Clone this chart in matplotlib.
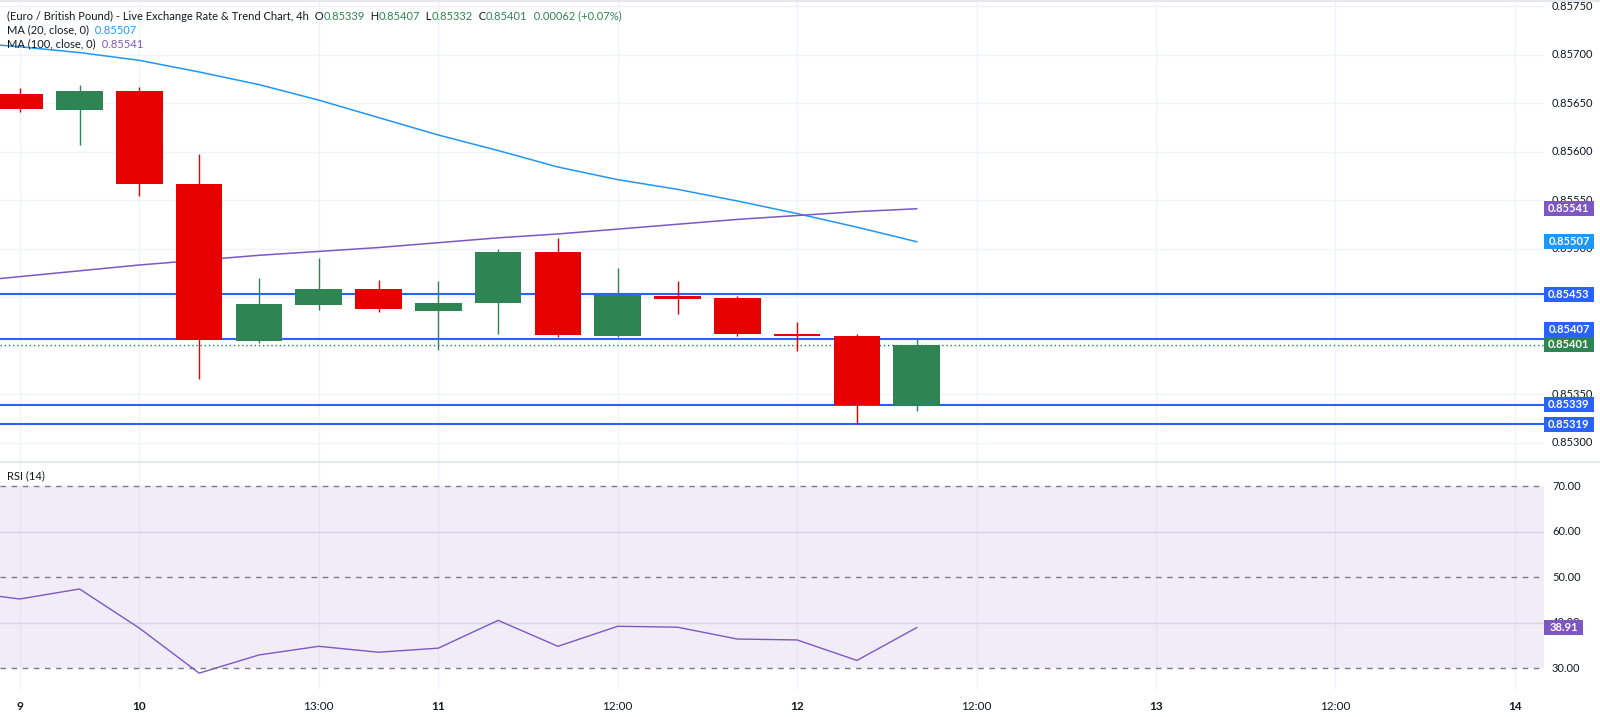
import numpy as np
import matplotlib
matplotlib.use("Agg")
import matplotlib.pyplot as plt
from matplotlib.patches import Rectangle
from matplotlib.lines import Line2D
from matplotlib import transforms

plt.rcParams["font.family"] = ["Lato", "DejaVu Sans"]

# 4h candles, oldest first
opens = [0.85659, 0.85643, 0.85662, 0.85566, 0.85405, 0.85442, 0.85458, 0.85436,
         0.85444, 0.85496, 0.85410, 0.85451, 0.85449, 0.85412, 0.85410, 0.85339]
highs = [0.85665, 0.85669, 0.85667, 0.85597, 0.85470, 0.85490, 0.85468, 0.85466,
         0.85499, 0.85511, 0.85480, 0.85466, 0.85451, 0.85424, 0.85412, 0.85407]
lows = [0.85641, 0.85607, 0.85554, 0.85365, 0.85403, 0.85437, 0.85435, 0.85395,
        0.85412, 0.85409, 0.85409, 0.85432, 0.85410, 0.85394, 0.85319, 0.85332]
closes = [0.85644, 0.85662, 0.85566, 0.85406, 0.85443, 0.85458, 0.85438, 0.85444,
          0.85496, 0.85411, 0.85452, 0.85448, 0.85412, 0.85410, 0.85339, 0.85401]

# indicators start one bar before the first visible candle
ma20 = [0.85713, 0.85708, 0.85702, 0.85694, 0.85682, 0.85669, 0.85653, 0.85635, 0.85617,
        0.85601, 0.85584, 0.85571, 0.85561, 0.85549, 0.85536, 0.85522, 0.85507]
ma100 = [0.85465, 0.85471, 0.85477, 0.85483, 0.85488, 0.85493, 0.85497, 0.85501, 0.85506,
         0.85511, 0.85515, 0.85520, 0.85525, 0.85530, 0.85534, 0.85538, 0.85541]
rsi = [46.9, 45.2, 47.4, 38.8, 28.9, 32.9, 34.8, 33.5, 34.4,
       40.5, 34.8, 39.2, 39.0, 36.4, 36.2, 31.7, 38.91]

levels = [0.85453, 0.85407, 0.85339, 0.85319]
last_price = 0.85401

price_grid = [0.85300, 0.85350, 0.85400, 0.85450, 0.85500, 0.85550,
              0.85600, 0.85650, 0.85700, 0.85750]
price_labels = [0.85750, 0.85700, 0.85650, 0.85600, 0.85550, 0.85500, 0.85350, 0.85300]
rsi_labels = [70, 60, 50, 40, 30]

time_labels = ["9", "10", "13:00", "11", "12:00", "12", "12:00", "13", "12:00", "14"]
time_label_bars = [0, 2, 5, 7, 10, 13, 16, 19, 22, 25]

UP = "#2e8553"
DOWN = "#e60000"
LEVEL = "#2962ff"
MA20_C = "#2196f3"
MA100_C = "#7e57c2"
TXT = "#131722"
GRID = "#f0f3fa"

W, H = 1600, 717
plot_right = 1544
pane_split = 462
rsi_bottom = 690

fig = plt.figure(figsize=(W / 100, H / 100), dpi=100)
fig.patch.set_facecolor("white")

ax = fig.add_axes([0, 1 - pane_split / H, plot_right / W, pane_split / H])
ax_r = fig.add_axes([0, 1 - rsi_bottom / H, plot_right / W, (rsi_bottom - pane_split) / H])

for a in (ax, ax_r):
    a.set_xlim(-0.33, 25.49)
    for s in a.spines.values():
        s.set_visible(False)
    a.tick_params(left=False, bottom=False, labelleft=False, labelbottom=False)
    a.set_xticks(time_label_bars)
    a.set_axisbelow(True)
    a.grid(True, axis="x", color=GRID, lw=1)

ax.set_ylim(0.852799, 0.857562)
ax.set_yticks(price_grid)
ax.grid(True, axis="y", color=GRID, lw=1)

ax_r.set_ylim(25.2, 75.3)
ax_r.set_yticks([40, 60])
ax_r.grid(True, axis="y", color="#e4e0ee", lw=1)

# candles
bar_x = np.arange(len(opens))
for i, o, h, l, c in zip(bar_x, opens, highs, lows, closes):
    col = UP if c >= o else DOWN
    ax.vlines(i, l, h, color=col, lw=1, zorder=3)
    ax.bar(i, max(abs(c - o), 0.000015), bottom=min(o, c), width=0.78,
           color=col, linewidth=0, zorder=4)

ind_x = np.arange(-1, len(opens))
ax.plot(ind_x, ma20, color=MA20_C, lw=1.1, zorder=2)
ax.plot(ind_x, ma100, color=MA100_C, lw=1.1, zorder=2)

for lv in levels:
    ax.axhline(lv, color=LEVEL, lw=1.5, zorder=2)
ax.axhline(last_price, color=UP, lw=1, ls=(0, (1, 2)), zorder=2)

# RSI pane
ax_r.axhspan(30, 70, color=MA100_C, alpha=0.1, lw=0)
for v in (30, 50, 70):
    ax_r.axhline(v, color="#787b86", lw=1, ls=(0, (4, 4)))
ax_r.plot(ind_x, rsi, color=MA100_C, lw=1)


def axis_label(a, value, text):
    y = a.transData.transform((0, value))[1]
    fig.text(1552 / W, y / H, text, ha="left", va="center", fontsize=8,
             color=TXT, zorder=4)


def tag(a, value, text, color, dy=0.0, width=50):
    y = a.transData.transform((0, value))[1] + dy
    fig.add_artist(Rectangle((plot_right / W, (y - 7.5) / H), width / W, 15 / H,
                             transform=fig.transFigure, facecolor=color,
                             edgecolor="none", zorder=5))
    fig.text((plot_right + width / 2) / W, y / H, text, ha="center", va="center",
             fontsize=8, color="white", fontweight="bold", zorder=6)


for p in price_labels:
    axis_label(ax, p, f"{p:.5f}")
for v in rsi_labels:
    axis_label(ax_r, v, f"{v:.2f}")

tag(ax, ma100[-1], f"{ma100[-1]:.5f}", MA100_C)
tag(ax, ma20[-1], f"{ma20[-1]:.5f}", MA20_C)
tag(ax, levels[0], f"{levels[0]:.5f}", LEVEL)
tag(ax, levels[1], f"{levels[1]:.5f}", LEVEL, dy=9.5)
tag(ax, last_price, f"{last_price:.5f}", UP)
tag(ax, levels[2], f"{levels[2]:.5f}", LEVEL)
tag(ax, levels[3], f"{levels[3]:.5f}", LEVEL)
tag(ax_r, rsi[-1], f"{rsi[-1]:.2f}", MA100_C, width=39)

# time axis
tx = transforms.blended_transform_factory(ax_r.transData, fig.transFigure)
for b, lab in zip(time_label_bars, time_labels):
    ax_r.text(b, 1 - 706 / H, lab, transform=tx, ha="center", va="center",
              fontsize=8.5, color=TXT, fontweight="normal" if ":" in lab else "bold")

# pane borders
fig.add_artist(Line2D([0, 1], [1 - pane_split / H] * 2, color="#e0e3eb", lw=1.2))
fig.add_artist(Line2D([0, 1], [1 - 1 / H] * 2, color="#e0e3eb", lw=1.2))


def legend_line(y_px, parts, x_px=7):
    t = fig.text(x_px / W, 1 - y_px / H, parts[0][0], color=parts[0][1],
                 fontsize=8, ha="left", va="center")
    for s, c in parts[1:]:
        t = fig.text(0, 0, "")  if False else ax.annotate(
            s, xy=(1, 0.5), xycoords=t, xytext=(0, 0), textcoords="offset points",
            ha="left", va="center", fontsize=8, color=c, annotation_clip=False)


chg = closes[-1] - opens[-1]
legend_line(16, [("(Euro / British Pound) - Live Exchange Rate & Trend Chart, 4h", TXT),
                 ("  O", TXT), (f"{opens[-1]:.5f}", UP),
                 ("  H", TXT), (f"{highs[-1]:.5f}", UP),
                 ("  L", TXT), (f"{lows[-1]:.5f}", UP),
                 ("  C", TXT), (f"{closes[-1]:.5f}", UP),
                 (f"  {chg:.5f} (+{chg / closes[-2] * 100:.2f}%)", UP)])
legend_line(30, [("MA (20, close, 0)", TXT), (f"  {ma20[-1]:.5f}", MA20_C)])
legend_line(44, [("MA (100, close, 0)", TXT), (f"  {ma100[-1]:.5f}", MA100_C)])
legend_line(476, [("RSI (14)", TXT), (f"  {rsi[-1]:.2f}", MA100_C)])

fig.savefig("out.png", dpi=100)
